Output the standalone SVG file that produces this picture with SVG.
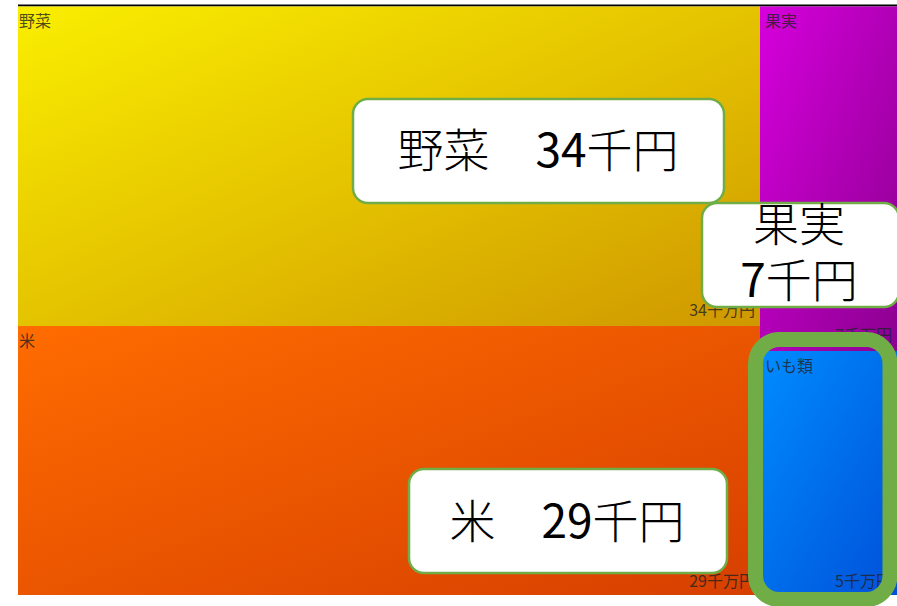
<svg xmlns="http://www.w3.org/2000/svg" width="897" height="606" viewBox="0 0 897 606">
<defs>
<linearGradient id="gY" x1="0" y1="0" x2="1" y2="1"><stop offset="0" stop-color="#FAEE00"/><stop offset="1" stop-color="#CF9800"/></linearGradient>
<linearGradient id="gP" x1="0" y1="0" x2="1" y2="1"><stop offset="0" stop-color="#D600DC"/><stop offset="1" stop-color="#8C0090"/></linearGradient>
<linearGradient id="gO" x1="0" y1="0" x2="1" y2="1"><stop offset="0" stop-color="#FF6C00"/><stop offset="1" stop-color="#D63F00"/></linearGradient>
<linearGradient id="gB" x1="0" y1="0" x2="1" y2="1"><stop offset="0" stop-color="#008CFF"/><stop offset="1" stop-color="#0050D8"/></linearGradient>
<style>
.lbl{font-family:"Noto Sans CJK JP","Noto Sans",sans-serif;font-size:16px;fill:#222;fill-opacity:0.8}
.val{font-family:"Noto Sans CJK JP","Noto Sans",sans-serif;font-size:16px;fill:#222;fill-opacity:0.8;text-anchor:end}
.box{fill:#FFFFFF;stroke:#70AD47;stroke-width:2.5}
.big{font-family:"Noto Sans CJK JP","Noto Sans",sans-serif;font-size:46px;font-weight:300;fill:#000;text-anchor:middle}
.num{font-weight:400}
</style>
</defs>
<rect x="0" y="0" width="897" height="606" fill="#FFFFFF"/>
<line x1="18" y1="5.5" x2="897" y2="5.5" stroke="#000" stroke-width="2"/>
<g id="node-yasai">
<rect x="18" y="6.5" width="742" height="319.5" fill="url(#gY)"/>
<text class="lbl" x="19" y="27">野菜</text>
<text class="val" x="755" y="316">34千万円</text>
</g>
<g id="node-kajitsu">
<rect x="760" y="6.5" width="137" height="344.5" fill="url(#gP)"/>
<text class="lbl" x="765" y="27">果実</text>
<text class="val" x="892" y="341">7千万円</text>
</g>
<g id="node-kome">
<rect x="18" y="326" width="742" height="269" fill="url(#gO)"/>
<text class="lbl" x="19" y="347">米</text>
<text class="val" x="755" y="587">29千万円</text>
</g>
<g id="node-imo">
<rect x="760" y="351" width="137" height="244" fill="url(#gB)"/>
<text class="lbl" x="765" y="372">いも類</text>
<text class="val" x="892" y="587">5千万円</text>
</g>
<g id="highlight">
<rect x="755.5" y="339.5" width="134.5" height="260" rx="24" ry="24" fill="none" stroke="#70AD47" stroke-width="15"/>
</g>
<g id="callout-yasai">
<rect class="box" x="353" y="99" width="371" height="104" rx="15" ry="15"/>
<text class="big" x="538" y="167">野菜　<tspan class="num">34</tspan>千円</text>
</g>
<g id="callout-kajitsu">
<rect class="box" x="702" y="203" width="197" height="104" rx="15" ry="15"/>
<text class="big" x="799" y="241">果実</text>
<text class="big" x="799" y="297"><tspan class="num">7</tspan>千円</text>
</g>
<g id="callout-kome">
<rect class="box" x="409" y="469" width="318" height="104" rx="15" ry="15"/>
<text class="big" x="567" y="538">米　<tspan class="num">29</tspan>千円</text>
</g>
</svg>
